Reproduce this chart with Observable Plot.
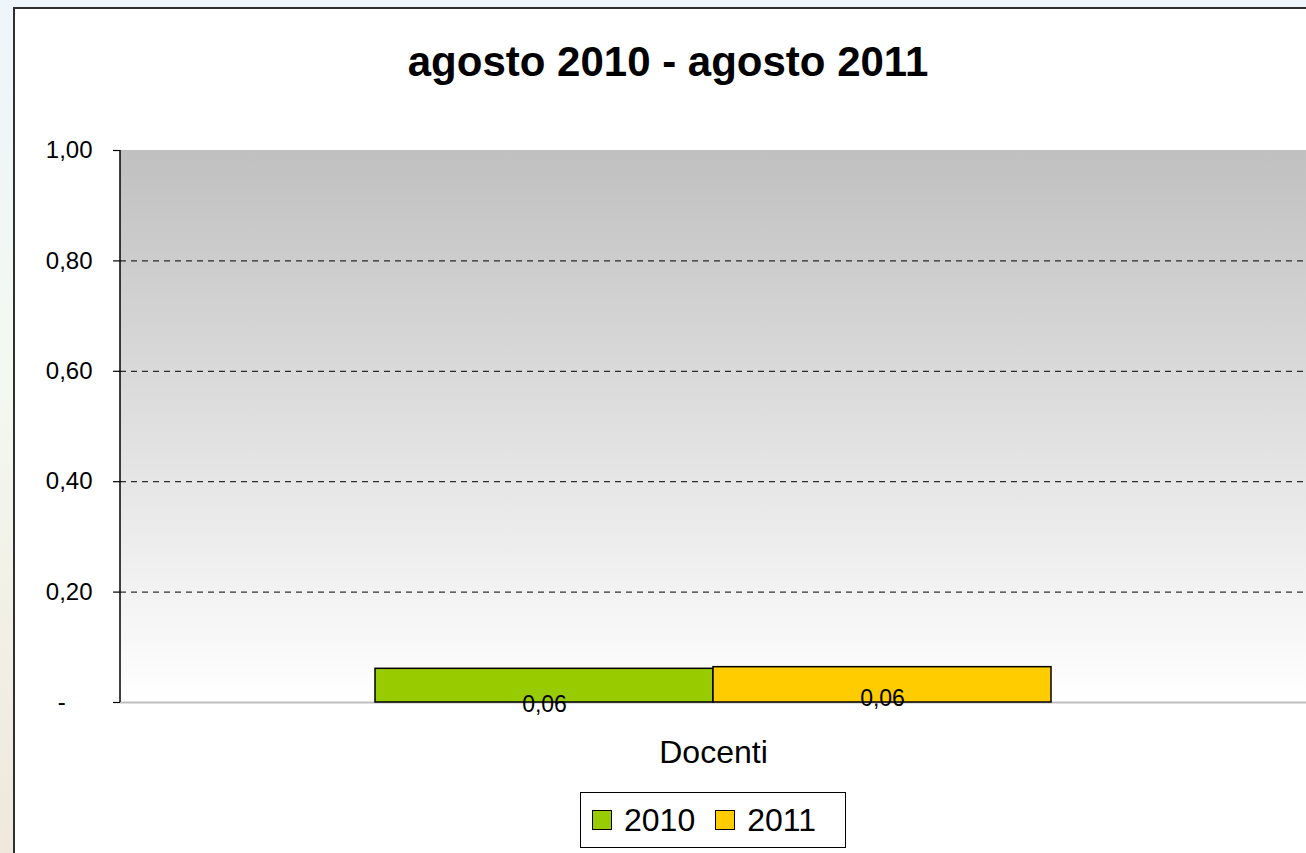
<!DOCTYPE html>
<html>
<head>
<meta charset="utf-8">
<script src="https://cdn.jsdelivr.net/npm/d3@7"></script>
<script src="https://cdn.jsdelivr.net/npm/@observablehq/plot@0.6"></script>
<style>
  html, body { margin: 0; padding: 0; }
  body {
    width: 1306px; height: 853px; overflow: hidden; position: relative;
    background: linear-gradient(to bottom, #eef5fb 0%, #f3f8f0 45%, #f0e8dc 100%);
    font-family: "Liberation Sans", Arial, sans-serif;
  }
  #box {
    position: absolute; left: 13px; top: 7px; right: -5px; bottom: -5px;
    background: #ffffff; border-left: 2px solid #303030; border-top: 2px solid #303030;
  }
  #chart { position: absolute; left: 0; top: 0; }
  #title {
    position: absolute; left: 368px; width: 600px; top: 41px;
    text-align: center; font-size: 42px; font-weight: bold; line-height: 42px; color: #000;
  }
  #legend {
    position: absolute; left: 580px; top: 792px; width: 266px; height: 56px;
    border: 1px solid #000; background: #fff; box-sizing: border-box;
    display: flex; align-items: center; padding-left: 11px;
    font-size: 32px; line-height: 32px; color: #000;
  }
  #legend .item { display: flex; align-items: center; margin-right: 20px; }
  #legend .sw { width: 18px; height: 18px; border: 1.5px solid #000; margin-right: 12px; }
</style>
</head>
<body>
<div id="box"></div>
<div id="chart"></div>
<div id="title"></div>
<div id="legend"></div>
<script>
const titleText = "agosto 2010 - agosto 2011";
const categories = ["Docenti"];
const years = ["2010", "2011"];
const values2010 = [0.061];
const values2011 = [0.064];
const yearColors = ["#99cc00", "#ffcc00"];
const yTicks = [0, 0.2, 0.4, 0.6, 0.8, 1.0];
const gridTicks = [0.2, 0.4, 0.6, 0.8];

const data = [];
categories.forEach((c, i) => {
  data.push({cat: c, year: years[0], value: values2010[i]});
  data.push({cat: c, year: years[1], value: values2011[i]});
});

const fmt = d => d === 0 ? "-\u00a0\u00a0\u00a0\u00a0" : d.toFixed(2).replace(".", ",");
const labelFmt = d => d.value.toFixed(2).replace(".", ",");

function background(index, scales, values, dimensions) {
  const {width, height, marginLeft, marginRight, marginTop, marginBottom} = dimensions;
  const g = d3.create("svg:g");
  const grad = g.append("defs").append("linearGradient")
    .attr("id", "plotbg").attr("x1", 0).attr("y1", 0).attr("x2", 0).attr("y2", 1);
  grad.append("stop").attr("offset", "0%").attr("stop-color", "#c0c0c0");
  grad.append("stop").attr("offset", "100%").attr("stop-color", "#ffffff");
  g.append("rect")
    .attr("x", marginLeft).attr("y", marginTop)
    .attr("width", width - marginLeft - marginRight)
    .attr("height", height - marginTop - marginBottom)
    .attr("fill", "url(#plotbg)");
  return g.node();
}

function yAxisLine(index, scales, values, dimensions) {
  const {height, marginLeft, marginTop, marginBottom} = dimensions;
  const g = d3.create("svg:g");
  g.append("line")
    .attr("x1", marginLeft).attr("x2", marginLeft)
    .attr("y1", marginTop).attr("y2", height - marginBottom)
    .attr("stroke", "#000").attr("stroke-width", 1.5);
  return g.node();
}

const chart = Plot.plot({
  width: 1306,
  height: 853,
  marginLeft: 120,
  marginRight: 0,
  marginTop: 150,
  marginBottom: 151,
  style: {background: "transparent", fontFamily: "Liberation Sans, Arial, sans-serif", color: "#000"},
  fx: {domain: categories, padding: 0, axis: null, label: null},
  x: {domain: years, paddingInner: 0, paddingOuter: 0.75, axis: null},
  y: {domain: [0, 1], axis: null, label: null},
  color: {domain: years, range: yearColors},
  marks: [
    background,
    Plot.ruleY(gridTicks, {stroke: "#000", strokeWidth: 1, strokeDasharray: "6,5"}),
    Plot.ruleY([0], {stroke: "#bfbfbf", strokeWidth: 2}),
    Plot.axisY({ticks: yTicks, tickFormat: fmt, tickSize: 7, tickPadding: 21, fontSize: 24, label: null, stroke: "#000", strokeWidth: 1.2, color: "#000"}),
    Plot.axisFx({anchor: "bottom", tickSize: 0, tickPadding: 38, fontSize: 32, label: null, color: "#000"}),
    yAxisLine,
    Plot.barY(data, {fx: "cat", x: "year", y: "value", fill: "year", stroke: "#000", strokeWidth: 1.5}),
    Plot.text(data.filter(d => d.year === years[0]), {fx: "cat", x: "year", y: 0, text: labelFmt, fontSize: 23, fill: "#000", dy: 2}),
    Plot.text(data.filter(d => d.year === years[1]), {fx: "cat", x: "year", y: 0, text: labelFmt, fontSize: 23, fill: "#000", dy: -4})
  ]
});
document.getElementById("chart").appendChild(chart);

document.getElementById("title").textContent = titleText;
const legend = document.getElementById("legend");
years.forEach((y, i) => {
  const item = document.createElement("div");
  item.className = "item";
  const sw = document.createElement("div");
  sw.className = "sw";
  sw.style.background = yearColors[i];
  const t = document.createElement("span");
  t.textContent = y;
  item.appendChild(sw);
  item.appendChild(t);
  legend.appendChild(item);
});
</script>
</body>
</html>
